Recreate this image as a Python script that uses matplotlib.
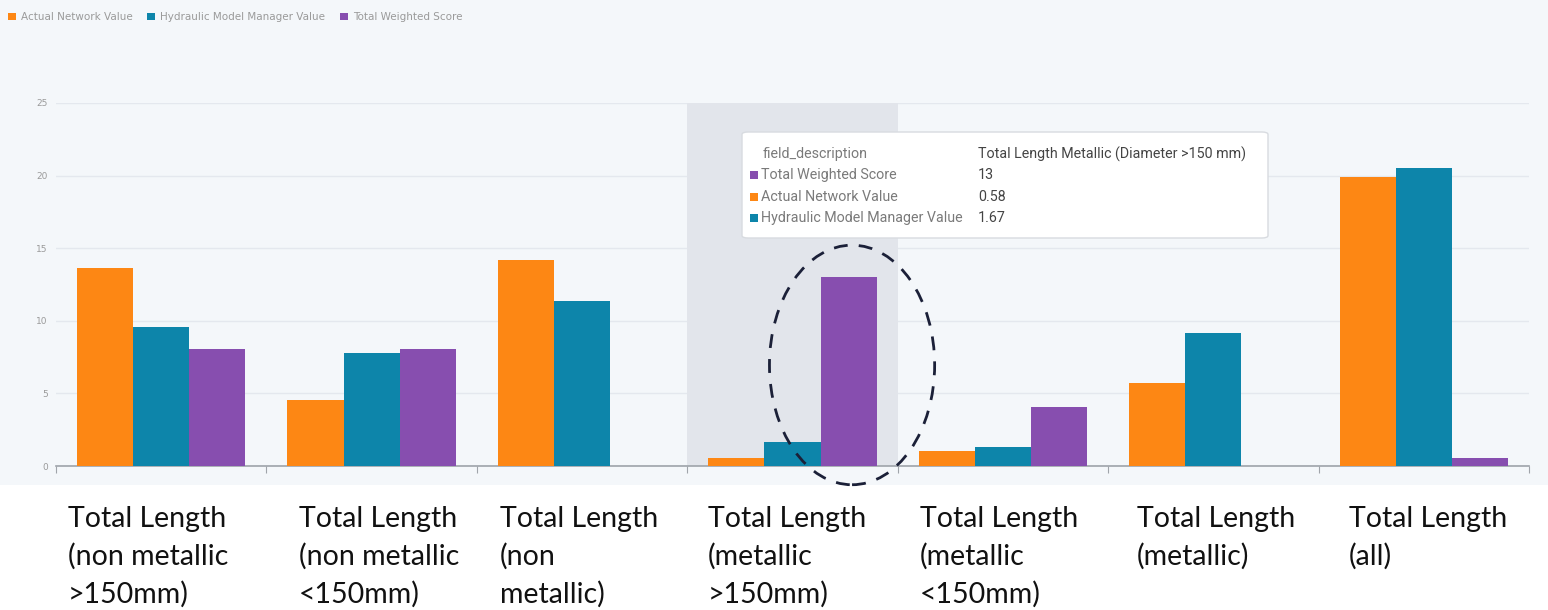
import matplotlib
matplotlib.use("Agg")
import matplotlib.pyplot as plt
from matplotlib.patches import Ellipse, FancyBboxPatch, Rectangle
from matplotlib.transforms import blended_transform_factory
import numpy as np

# ---- data ----
categories = [
    "Total Length\n(non metallic\n>150mm)",
    "Total Length\n(non metallic\n<150mm)",
    "Total Length\n(non\nmetallic)",
    "Total Length\n(metallic\n>150mm)",
    "Total Length\n(metallic\n<150mm)",
    "Total Length\n(metallic)",
    "Total Length\n(all)",
]
series_names = ["Actual Network Value", "Hydraulic Model Manager Value", "Total Weighted Score"]
actual_network = [13.64, 4.55, 14.19, 0.58, 1.03, 5.72, 19.9]
hydraulic_model = [9.57, 7.78, 11.36, 1.67, 1.31, 9.16, 20.5]
weighted_score = [8.06, 8.06, 0.0, 13.0, 4.06, 0.0, 0.55]
y_ticks = [0, 5, 10, 15, 20, 25]
highlight_index = 3
tooltip_title = "Total Length Metallic (Diameter >150 mm)"

# layout: left edge of each category label relative to category centre (data units)
label_offsets = [-0.443, -0.345, -0.390, -0.402, -0.394, -0.363, -0.355]

colors = ["#fd8714", "#0d85aa", "#874eaf"]

W, H = 1548, 610
fig = plt.figure(figsize=(W / 100, H / 100), dpi=100)
fig.patch.set_facecolor("white")

def fx(px):
    return px / W

def fy(py):
    return 1 - py / H

# dashboard background
fig.patches.append(Rectangle((0, fy(485)), 1, 1 - fy(485), transform=fig.transFigure,
                             facecolor="#f4f7fa", edgecolor="none", zorder=-10))

ax = fig.add_axes([fx(56), fy(466), fx(1529) - fx(56), fy(103) - fy(466)])
ax.set_facecolor("none")
ax.set_zorder(1)

x = np.arange(len(categories))
bw = 0.8 / 3
series = [actual_network, hydraulic_model, weighted_score]
handles = []
for i, (vals, name, c) in enumerate(zip(series, series_names, colors)):
    b = ax.bar(x + (i - 1) * bw, vals, width=bw, color=c, label=name, zorder=3, linewidth=0)
    handles.append(b)

ax.axvspan(highlight_index - 0.5, highlight_index + 0.5, color="#e2e5eb", zorder=1, lw=0)

ax.set_xlim(-0.5, len(categories) - 0.5)
ax.set_ylim(0, 25)
ax.set_yticks(y_ticks)
ax.set_yticklabels([str(t) for t in y_ticks])
ax.tick_params(axis="y", length=0, labelsize=6.5, labelcolor="#9a9a9a", pad=6)
ax.yaxis.grid(True, color="#e4e8ee", lw=1, zorder=0)
ax.set_axisbelow(True)
ax.set_xticks(np.arange(-0.5, len(categories), 1.0))
ax.set_xticklabels([])
ax.tick_params(axis="x", length=5, color="#a0a4aa", direction="out")
for s in ["top", "right", "left"]:
    ax.spines[s].set_visible(False)
ax.spines["bottom"].set_color("#9ea3aa")
ax.spines["bottom"].set_linewidth(1.2)

# legend
fig.legend(handles=handles, labels=series_names, loc="center left",
           bbox_to_anchor=(fx(8), fy(17)), ncol=3, frameon=False, fontsize=7.5,
           labelcolor="#9a9a9a", handlelength=0.75, handleheight=0.75,
           handletextpad=0.5, columnspacing=1.4, borderpad=0, borderaxespad=0)

# category labels below
tr = blended_transform_factory(ax.transData, fig.transFigure)
baselines = [527, 565, 603]
for i, lab in enumerate(categories):
    for j, line in enumerate(lab.split("\n")):
        ax.text(i + label_offsets[i], fy(baselines[j]), line, transform=tr, ha="left",
                va="baseline", fontsize=20.5, family="Lato", color="#111111", clip_on=False)

# tooltip
box = FancyBboxPatch((fx(742), fy(238)), fx(1268) - fx(742), fy(132) - fy(238),
                     boxstyle="round,pad=0,rounding_size=0.004", transform=fig.transFigure,
                     facecolor="white", edgecolor="#d8dbe0", lw=1, zorder=10)
fig.patches.append(box)
tip_rows = [("field_description", tooltip_title, None),
            (series_names[2], f"{weighted_score[highlight_index]:g}", colors[2]),
            (series_names[0], f"{actual_network[highlight_index]:g}", colors[0]),
            (series_names[1], f"{hydraulic_model[highlight_index]:g}", colors[1])]
row_y = [154, 175, 197, 218]
for (lab, val, c), ry in zip(tip_rows, row_y):
    tx = 763 if c is None else 761
    fig.text(fx(tx), fy(ry), lab, fontsize=10.3, color="#7a7a7a", va="center", ha="left",
             family="Roboto", zorder=11)
    fig.text(fx(978), fy(ry), val, fontsize=10.3, color="#444444", va="center", ha="left",
             family="Roboto", zorder=11)
    if c is not None:
        fig.patches.append(Rectangle((fx(750), fy(ry + 4)), fx(8), 8 / H, transform=fig.transFigure,
                                     facecolor=c, edgecolor="none", zorder=11))

# dashed ellipse annotation
ell = Ellipse((3.283, 6.96), width=0.785, height=16.5, fill=False, edgecolor="#1b2038",
              lw=2, linestyle=(0, (5, 4)), zorder=12, clip_on=False)
ax.add_patch(ell)

fig.savefig("out.png", dpi=100, facecolor=fig.get_facecolor())
